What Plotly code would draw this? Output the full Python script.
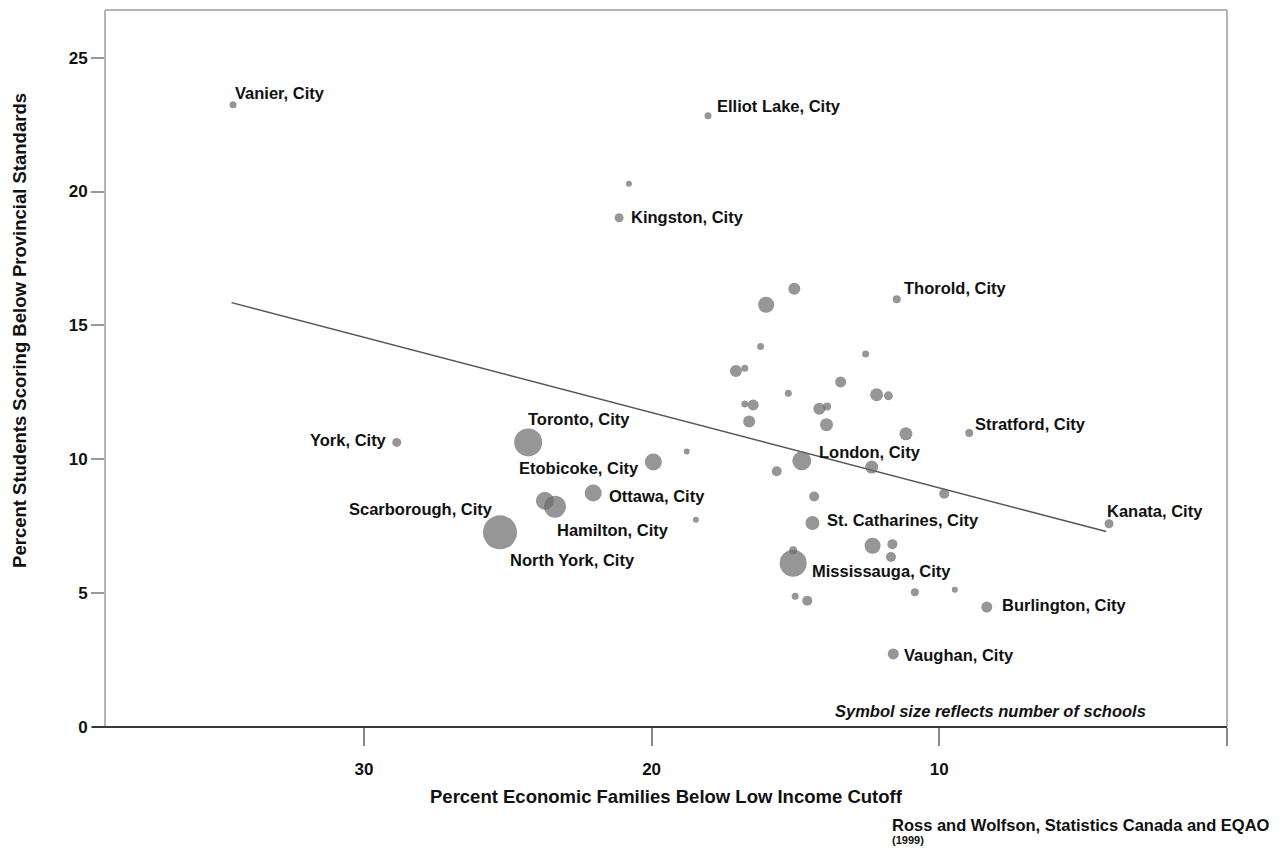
import plotly.graph_objects as go

# ---------------- data ----------------
city = ["Vanier, City", "Elliot Lake, City", "", "Kingston, City", "", "", "Thorold, City", "", "",
        "", "", "", "", "", "", "", "", "", "", "", "", "", "Stratford, City", "",
        "Etobicoke, City", "London, City", "", "", "", "", "St. Catharines, City", "Kanata, City",
        "", "", "", "Mississauga, City", "", "", "", "", "", "Burlington, City", "Vaughan, City",
        "York, City", "Toronto, City", "Ottawa, City", "Hamilton, City", "", "", "North York, City"]
pct_low_income = [34.55, 18.04, 20.79, 21.13, 15.04, 16.02, 11.48, 16.21, 12.56,
                  17.07, 16.76, 13.43, 15.25, 12.18, 11.77, 16.47, 16.76, 14.17, 13.90, 16.61, 13.92, 11.16, 8.96, 18.78,
                  19.94, 14.78, 15.65, 12.35, 9.83, 14.35, 14.41, 4.10,
                  12.32, 11.63, 11.68, 15.08, 15.08, 10.85, 9.46, 15.01, 14.59, 8.35, 11.60,
                  28.86, 24.29, 22.03, 23.36, 23.71, 18.46, 25.27]
pct_below_std = [23.24, 22.83, 20.29, 19.02, 16.37, 15.77, 15.98, 14.21, 13.93,
                 13.30, 13.40, 12.89, 12.47, 12.41, 12.37, 12.03, 12.06, 11.89, 11.97, 11.41, 11.29, 10.95, 10.98, 10.29,
                 9.90, 9.94, 9.55, 9.71, 8.71, 8.61, 7.62, 7.59,
                 6.77, 6.83, 6.35, 6.12, 6.60, 5.03, 5.13, 4.88, 4.72, 4.48, 2.73,
                 10.63, 10.63, 8.74, 8.23, 8.45, 7.74, 7.27]
schools_symbol = [7, 7, 6, 9, 12, 16, 8, 7, 7,
                  12, 7, 11, 7, 13, 9, 11, 7, 12, 8, 12, 13, 13, 8, 6,
                  17, 19, 10, 13, 10, 10, 14, 9,
                  16, 10, 10, 27, 8, 8, 6, 7, 10, 11, 11,
                  9, 28, 17, 22, 18, 6, 34]
fit_x = [34.6, 4.2]
fit_y = [15.85, 7.3]
x_ticks = [30, 20, 10, 0]
x_tick_text = ["30", "20", "10", ""]
y_ticks = [0, 5, 10, 15, 20, 25]
extra_label = "Scarborough, City"
extra_label_point = "North York, City"

# ---------------- styling ----------------
FONT = "Liberation Sans, Arial, sans-serif"
INK = "#111111"
DOT = "#6a6a6a"
BORDER = "#b4b4b4"
LBL = 16.5
label_style = {
    "Vanier, City": ("left", 0, 12),
    "Elliot Lake, City": ("left", 7, 10),
    "Kingston, City": ("left", 10, 1),
    "Thorold, City": ("left", 5, 11),
    "Stratford, City": ("left", 4, 9),
    "Kanata, City": ("left", -4, 13),
    "York, City": ("right", -8, 2),
    "Toronto, City": ("left", -2, 23),
    "Etobicoke, City": ("right", -12, -6),
    "Ottawa, City": ("left", 14, -3),
    "Hamilton, City": ("left", 0, -23),
    "North York, City": ("left", 8, -28),
    "London, City": ("left", 15, 9),
    "St. Catharines, City": ("left", 13, 3),
    "Mississauga, City": ("left", 17, -8),
    "Burlington, City": ("left", 13, 2),
    "Vaughan, City": ("left", 9, -1),
    "Scarborough, City": ("right", -5, 23),
}

fig = go.Figure()
fig.add_trace(go.Scatter(x=fit_x, y=fit_y, mode="lines",
                         line=dict(color="#555555", width=1.5), hoverinfo="skip", showlegend=False))
fig.add_trace(go.Scatter(x=pct_low_income, y=pct_below_std, mode="markers",
                         marker=dict(size=schools_symbol, color=DOT, line=dict(width=0)),
                         text=city, showlegend=False))


def label(xv, yv, name):
    anchor, xs, ys = label_style[name]
    return dict(x=xv, y=yv, text="<b>%s</b>" % name, showarrow=False, xanchor=anchor, yanchor="middle",
                xshift=xs, yshift=ys, font=dict(family=FONT, size=LBL, color=INK))


annotations = [label(xv, yv, n) for n, xv, yv in zip(city, pct_low_income, pct_below_std) if n]
i = city.index(extra_label_point)
annotations.append(label(pct_low_income[i], pct_below_std[i], extra_label))

annotations += [
    dict(xref="paper", yref="paper", x=0.9296, y=0.0223, xanchor="right", yanchor="middle",
         text="<b><i>Symbol size reflects number of schools</i></b>", showarrow=False,
         font=dict(family=FONT, size=16.5, color=INK)),
    dict(xref="paper", yref="paper", x=0.5, y=-0.0976, xanchor="center", yanchor="middle",
         text="<b>Percent Economic Families Below Low Income Cutoff</b>", showarrow=False,
         font=dict(family=FONT, size=18.5, color=INK)),
    dict(xref="paper", yref="paper", x=-0.0758, y=0.5537, xanchor="center", yanchor="middle",
         text="<b>Percent Students Scoring Below Provincial Standards</b>", textangle=-90, showarrow=False,
         font=dict(family=FONT, size=18.5, color=INK)),
    dict(xref="paper", yref="paper", x=0.6996, y=-0.1367, xanchor="left", yanchor="middle",
         text="<b>Ross and Wolfson, Statistics Canada and EQAO</b>", showarrow=False,
         font=dict(family=FONT, size=16.5, color=INK)),
    dict(xref="paper", yref="paper", x=0.6996, y=-0.1576, xanchor="left", yanchor="middle",
         text="<b>(1999)</b>", showarrow=False,
         font=dict(family=FONT, size=11, color=INK)),
]

shapes = [
    dict(type="line", xref="paper", yref="paper", x0=0, x1=1, y0=1, y1=1, line=dict(color=BORDER, width=2)),
    dict(type="line", xref="paper", yref="paper", x0=0, x1=0, y0=0, y1=1, line=dict(color=BORDER, width=2)),
    dict(type="line", xref="paper", yref="paper", x0=1, x1=1, y0=0, y1=1, line=dict(color=BORDER, width=2)),
    dict(type="line", xref="paper", yref="paper", x0=-0.0116, x1=1, y0=0, y1=0,
         line=dict(color="#3a3a3a", width=2)),
]

fig.update_layout(
    width=1285, height=848,
    margin=dict(l=105, r=58, t=10, b=121),
    paper_bgcolor="white", plot_bgcolor="white",
    font=dict(family=FONT, color=INK),
    annotations=annotations, shapes=shapes,
    xaxis=dict(range=[39, 0], tickvals=x_ticks, ticktext=x_tick_text, ticks="outside", ticklen=18,
               tickcolor="#888888", tickwidth=1.5, showgrid=False, zeroline=False, showline=False,
               tickfont=dict(family=FONT, size=17, color=INK, weight="bold"), ticklabelstandoff=9),
    yaxis=dict(range=[0, 26.78], tickvals=y_ticks, ticks="outside", ticklen=13,
               tickcolor="#999999", tickwidth=1.5, showgrid=False, zeroline=False, showline=False,
               tickfont=dict(family=FONT, size=17, color=INK, weight="bold"), ticklabelstandoff=0),
)

fig.write_html("out.html", config={"displayModeBar": False},
               post_script="document.body.style.margin='0px';")
